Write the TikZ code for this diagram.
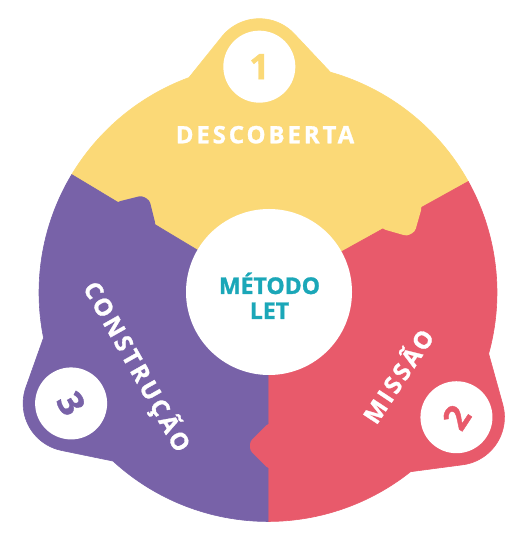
\documentclass[tikz,border=0pt]{standalone}
\usepackage{fontspec}
\setmainfont{Open Sans}[BoldFeatures={FakeBold=1.2}]
\newfontfamily\spacedfont{Open Sans}[LetterSpace=12, BoldFeatures={FakeBold=1.2}]
\usepackage{tikz}
\usetikzlibrary{calc}
\definecolor{letyellow}{HTML}{FBD977}
\definecolor{letred}{HTML}{E85A6B}
\definecolor{letpurple}{HTML}{7862A8}
\definecolor{letteal}{HTML}{1BA7B8}
% one ring piece: colour, rotation, start and end angle (bump on top)
\newcommand{\petal}[4]{%
  \begin{scope}[shift={(O)}, rotate=#2]
    \fill[#1, draw=#1, line width=.6pt] (0,0) -- (#3:229)
      arc[start angle=#3, end angle=72, radius=229]
      -- (36.2,257.5) arc[start angle=41, end angle=139, radius=48]
      -- (108:229) arc[start angle=108, end angle=#4, radius=229] -- cycle;
  \end{scope}}
% puzzle tab on the edge at angle #2
\newcommand{\notch}[2]{%
  \begin{scope}[shift={(O)}, rotate=#2]
    \fill[#1, rounded corners=3pt] (131,4) -- (131,0) -- (149,-18)
      -- (158,-18) -- (176,0) -- (176,4) -- cycle;
  \end{scope}}

\begin{document}
\begin{tikzpicture}[
  x=1pt, y=1pt,
  numdot/.style={circle, fill=white, minimum size=72, inner sep=0,
                 font=\fontsize{35}{35}\selectfont\bfseries},
  ringlabel/.style={text=white, inner sep=0, anchor=base,
                    font=\spacedfont\fontsize{24}{28}\selectfont\bfseries},
  hublabel/.style={text=letteal, inner sep=0, anchor=base,
                   font=\fontsize{23}{25}\selectfont\bfseries}
]
  \useasboundingbox (0,0) rectangle (525,545);
  \coordinate (O) at (268,252.5);

  \petal{letyellow}{2.2}{26.8}{146.8}
  \petal{letred}{-123.5}{33.5}{152.5}
  \petal{letpurple}{119.4}{29.6}{150.6}

  \notch{letyellow}{29}
  \notch{letred}{-90}
  \notch{letpurple}{149}

  \node[circle, fill=white, minimum size=166, inner sep=0] (hub) at (269,253) {};
  \node[hublabel] (metodo) at (269.5,251) {MÉTODO};
  \node[hublabel] (let) at (269.5,226) {LET};

  \node[numdot, text=letyellow] (one) at ($(O)+(92.2:226)$) {1};
  \node[numdot, text=letred, rotate=56.5] (two) at ($(O)+(-33.5:226)$) {2};
  \node[numdot, text=letpurple, rotate=-60.5] (three) at ($(O)+(209.4:226)$) {3};

  \node[ringlabel] (descoberta) at (265,401.7) {DESCOBERTA};
  \node[ringlabel, rotate=56.5] (missao) at (405.8,163.7) {MISSÃO};
  \node[ringlabel, rotate=-60.5] (construcao) at (129.6,174.2) {CONSTRUÇÃO};
\end{tikzpicture}
\end{document}
